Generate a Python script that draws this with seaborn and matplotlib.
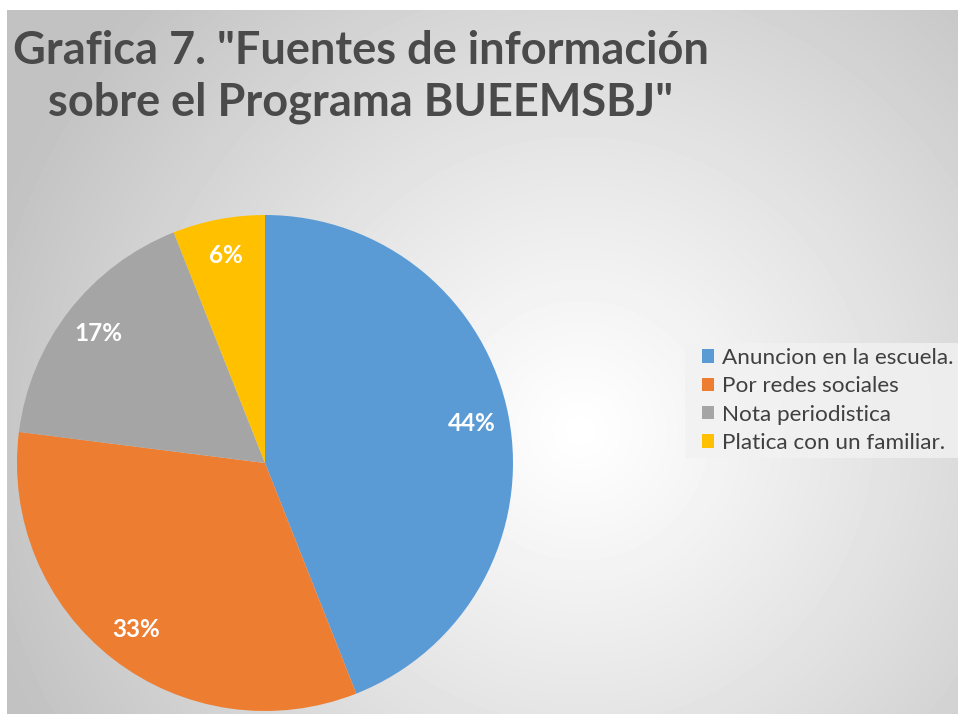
import numpy as np
import matplotlib
matplotlib.use("Agg")
import matplotlib.pyplot as plt
import seaborn as sns
from matplotlib.patches import Rectangle

# data
categorias = ["Anuncion en la escuela.", "Por redes sociales", "Nota periodistica", "Platica con un familiar."]
valores = [44, 33, 17, 6]
colores = ["#5B9BD5", "#ED7D31", "#A5A5A5", "#FFC000"]
titulo = "Grafica 7. \"Fuentes de información\nsobre el Programa BUEEMSBJ\""

sns.set_style("white")
plt.rcParams['font.family'] = ['Lato', 'DejaVu Sans']
paleta = sns.color_palette(colores)

W, H = 958, 714
fig = plt.figure(figsize=(W / 100, H / 100), dpi=100)
fig.patch.set_facecolor("white")

# background radial gradient (chart area)
bg = fig.add_axes([7 / W, 0, 1 - 7 / W, 1 - 10 / H])
yy, xx = np.mgrid[10:H, 7:W]
d = np.sqrt((xx - 580) ** 2 + (yy - 430) ** 2)
v = 1 - 0.24 * np.clip(d / 620, 0, 1) ** 1.1
bg.imshow(v, cmap="gray", vmin=0, vmax=1, aspect="auto", interpolation="bilinear")
bg.axis("off")

# pie
cx, cy, r = 265, 463, 248
ax = fig.add_axes([(cx - r) / W, (H - cy - r) / H, 2 * r / W, 2 * r / H])
wedges, texts, autotexts = ax.pie(valores, colors=paleta, startangle=90, counterclock=False,
                                  autopct="%1.0f%%", pctdistance=0.85, radius=1,
                                  wedgeprops=dict(linewidth=0, edgecolor="none"),
                                  textprops=dict(color="white", fontsize=17.5, fontweight="bold"))
ax.set_xlim(-1, 1)
ax.set_ylim(-1, 1)
ax.axis("off")

fig.text(361 / W, 1 - 77 / H, titulo, ha="center", va="center", fontsize=32.5,
         fontweight="bold", color="#4a4a4a", linespacing=1.3)

# legend background box
fig.patches.append(Rectangle((685 / W, 1 - 458 / H), (W - 685) / W, 115 / H,
                             transform=fig.transFigure, facecolor="#f2f2f2",
                             alpha=0.8, edgecolor="none", zorder=1))
leg = fig.legend(wedges, categorias, loc="upper left", bbox_to_anchor=(702 / W, 1 - 348 / H),
                 frameon=False, fontsize=16.2, handlelength=0.55, handleheight=0.55,
                 handletextpad=0.35, labelspacing=0.37, borderpad=0, borderaxespad=0,
                 labelcolor="#404040")

fig.savefig("out.png", dpi=100)
